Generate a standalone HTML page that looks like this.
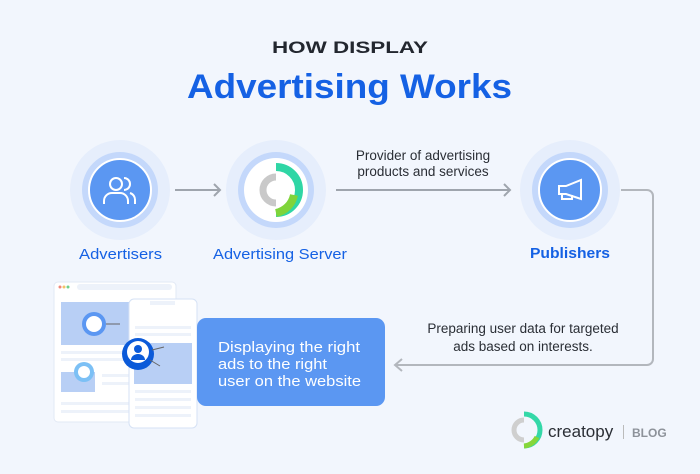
<!DOCTYPE html>
<html><head><meta charset="utf-8"><style>
html,body{margin:0;padding:0;background:#f2f6fd;}
svg{display:block;font-family:"Liberation Sans",sans-serif;}
</style></head><body>
<svg width="700" height="474" viewBox="0 0 700 474">
<rect width="700" height="474" fill="#f2f6fd"/>
<text x="272" y="53" font-size="17" font-weight="bold" fill="#23272f" textLength="156" lengthAdjust="spacingAndGlyphs">HOW DISPLAY</text>
<text x="187" y="98" font-size="34" font-weight="bold" fill="#1561e4" textLength="325" lengthAdjust="spacingAndGlyphs">Advertising Works</text>

<!-- Advertisers -->
<circle cx="120" cy="190" r="50" fill="#e6eefc"/>
<circle cx="120" cy="190" r="38" fill="#c4d8fb"/>
<circle cx="120" cy="190" r="31" fill="#5b97f2" stroke="#fff" stroke-width="2"/>
<g fill="none" stroke="#fff" stroke-width="2">
<circle cx="116" cy="184" r="6"/><path d="M104 204v-3a8 8 0 0 1 8-8h8a8 8 0 0 1 8 8v3"/>
<path d="M124 178a6 6 0 0 1 0 12M130 193a7 7 0 0 1 5 7v4"/></g>
<text x="79" y="259" font-size="15" fill="#1561e4" textLength="83" lengthAdjust="spacingAndGlyphs">Advertisers</text>
<path d="M175 190H220M214 184l6 6-6 6" fill="none" stroke="#9fa5ad" stroke-width="2"/>

<!-- Server -->
<circle cx="276" cy="190" r="50" fill="#e6eefc"/>
<circle cx="276" cy="190" r="38" fill="#c4d8fb"/>
<circle cx="276" cy="190" r="32" fill="#fff"/>
<path d="M276 177a13 13 0 0 0 0 26" fill="none" stroke="#c9c9c9" stroke-width="7"/>
<path d="M276 167a23 23 0 0 1 0 46" fill="none" stroke="#2fd6a5" stroke-width="8"/>
<path d="M294 195a23 23 0 0 1-18 18" fill="none" stroke="#7fd43a" stroke-width="8"/>
<text x="213" y="259" font-size="15" fill="#1561e4" textLength="134" lengthAdjust="spacingAndGlyphs">Advertising Server</text>
<path d="M336 190H510M504 184l6 6-6 6" fill="none" stroke="#9fa5ad" stroke-width="2"/>
<text x="423" y="160" text-anchor="middle" font-size="13.5" fill="#2a2e35">Provider of advertising</text>
<text x="423" y="176" text-anchor="middle" font-size="13.5" fill="#2a2e35">products and services</text>

<!-- Publishers -->
<circle cx="570" cy="190" r="50" fill="#e6eefc"/>
<circle cx="570" cy="190" r="38" fill="#c4d8fb"/>
<circle cx="570" cy="190" r="31" fill="#5b97f2" stroke="#fff" stroke-width="2"/>
<g fill="none" stroke="#fff" stroke-width="2"><path d="M559 186h7l15-6v19l-15-5h-7z"/><path d="M562 194v5h10v-4"/></g>
<text x="530" y="258" font-size="15" font-weight="bold" fill="#1561e4" textLength="80" lengthAdjust="spacingAndGlyphs">Publishers</text>
<path d="M621 190H647a6 6 0 0 1 6 6V359a6 6 0 0 1-6 6H395M402 359l-7 6 7 6" fill="none" stroke="#b3b7bd" stroke-width="2"/>
<text x="523" y="333" text-anchor="middle" font-size="13.5" fill="#2a2e35">Preparing user data for targeted</text>
<text x="523" y="351" text-anchor="middle" font-size="13.5" fill="#2a2e35">ads based on interests.</text>

<!-- browser -->
<rect x="54" y="282" width="122" height="140" rx="4" fill="#fff" stroke="#e2e9f5"/>
<circle cx="60" cy="287" r="1.5" fill="#f0877a"/><circle cx="64" cy="287" r="1.5" fill="#f3c36a"/><circle cx="68" cy="287" r="1.5" fill="#6fd08a"/>
<rect x="77" y="284" width="95" height="6" rx="3" fill="#edf2fa"/>
<rect x="61" y="302" width="70" height="43" fill="#b8cff5"/>
<rect x="61" y="351" width="70" height="3" fill="#edf2fa"/><rect x="61" y="358" width="70" height="3" fill="#edf2fa"/>
<rect x="61" y="372" width="34" height="20" fill="#b8cff5"/>
<rect x="102" y="374" width="28" height="3" fill="#edf2fa"/><rect x="102" y="382" width="28" height="3" fill="#edf2fa"/>
<rect x="61" y="402" width="70" height="3" fill="#edf2fa"/><rect x="61" y="410" width="70" height="3" fill="#edf2fa"/>
<circle cx="94" cy="324" r="12" fill="#5b97f2"/><circle cx="94" cy="324" r="8" fill="#fff"/>
<path d="M106 324h14" stroke="#666" stroke-width="1"/>
<circle cx="84" cy="372" r="10" fill="#7cc0f5"/><circle cx="84" cy="372" r="6" fill="#fff"/>
<!-- phone -->
<rect x="129" y="299" width="68" height="129" rx="5" fill="#fff" stroke="#d6e2f5"/>
<rect x="150" y="301" width="25" height="4" fill="#edf2fa"/>
<rect x="135" y="326" width="56" height="3" fill="#edf2fa"/><rect x="135" y="333" width="56" height="3" fill="#edf2fa"/>
<rect x="134" y="343" width="58" height="41" fill="#b8cff5"/>
<rect x="135" y="390" width="56" height="3" fill="#edf2fa"/><rect x="135" y="398" width="56" height="3" fill="#edf2fa"/><rect x="135" y="406" width="56" height="3" fill="#edf2fa"/><rect x="135" y="414" width="56" height="3" fill="#edf2fa"/>
<circle cx="138" cy="354" r="16" fill="#0b5ad9"/><circle cx="138" cy="352" r="11" fill="#fff"/><circle cx="138" cy="349" r="4" fill="#0b5ad9"/><path d="M131 360a7 6 0 0 1 14 0" fill="#0b5ad9"/>
<path d="M152 350l12-3M150 360l10 6" stroke="#666"/>
<!-- blue box -->
<rect x="197" y="318" width="188" height="88" rx="9" fill="#5b97f2"/>
<text x="218" y="352" font-size="15" fill="#fff" textLength="142" lengthAdjust="spacingAndGlyphs">Displaying the right</text>
<text x="218" y="369" font-size="15" fill="#fff" textLength="109" lengthAdjust="spacingAndGlyphs">ads to the right</text>
<text x="218" y="386" font-size="15" fill="#fff" textLength="143" lengthAdjust="spacingAndGlyphs">user on the website</text>

<!-- logo -->
<path d="M524 420a10 10 0 0 0 0 20" fill="none" stroke="#cfcfcf" stroke-width="5"/>
<path d="M524 414a16 16 0 0 1 0 32" fill="none" stroke="#34d8a8" stroke-width="5"/>
<path d="M537 437a16 16 0 0 1-13 9" fill="none" stroke="#86d63a" stroke-width="5"/>
<text x="548" y="437" font-size="17" fill="#2a2e35">creatopy</text>
<rect x="623" y="425" width="1" height="14" fill="#bbb"/>
<text x="632" y="437" font-size="12" font-weight="bold" fill="#8d929a">BLOG</text>
</svg>
</body></html>
